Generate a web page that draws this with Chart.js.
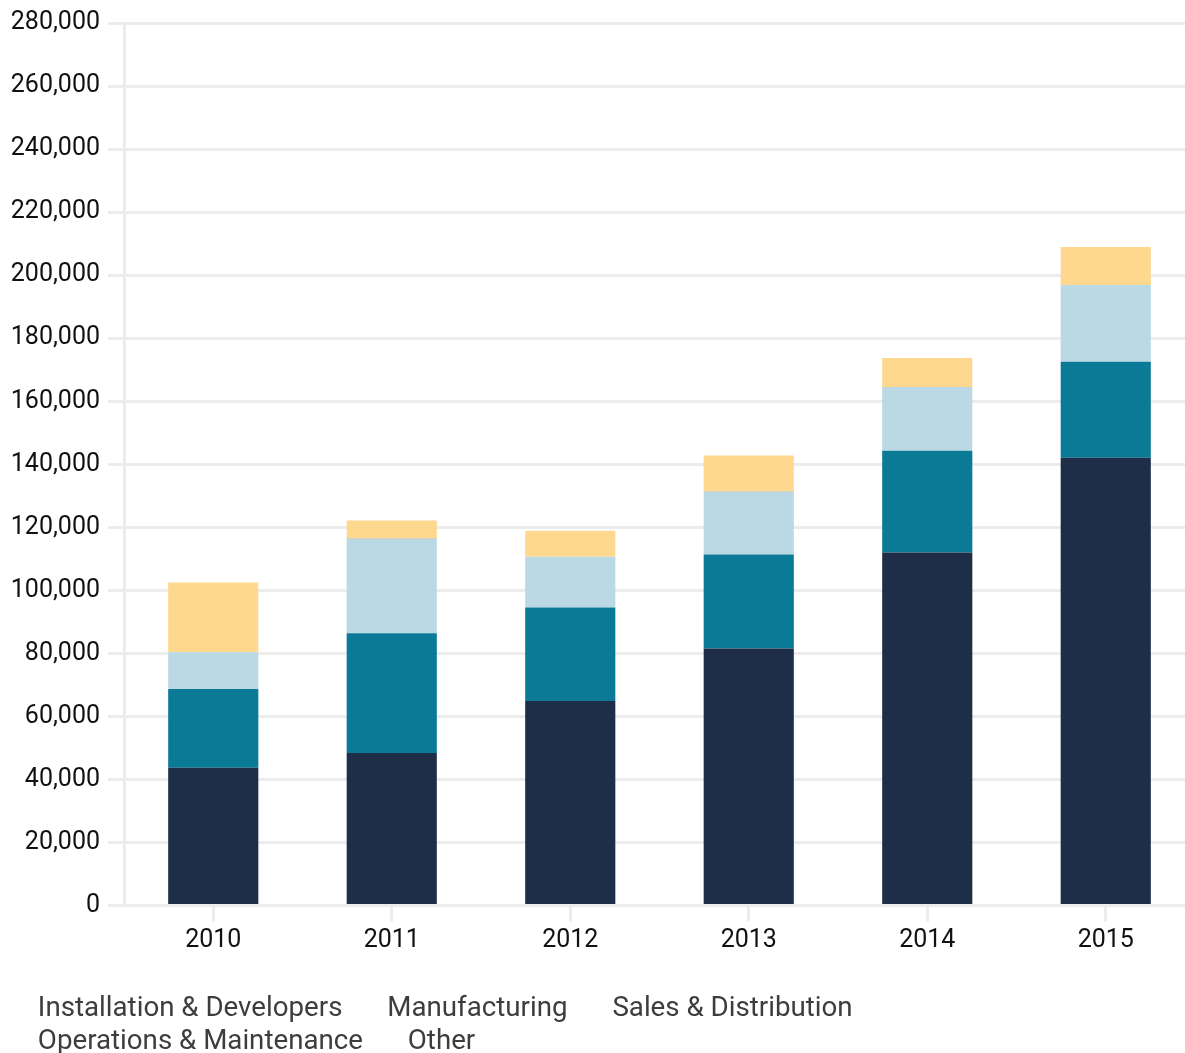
<!DOCTYPE html>
<html>
<head>
<meta charset="utf-8">
<script src="https://cdn.jsdelivr.net/npm/chart.js@4/dist/chart.umd.min.js"></script>
<style>
  html, body { margin: 0; padding: 0; background: #ffffff; overflow: hidden; }
  #wrap { position: absolute; left: -7px; top: 0; width: 1202px; height: 1066px; }
</style>
</head>
<body>
<div id="wrap"><canvas id="chart"></canvas></div>
<script>
// Jobs by segment, 2010–2015
const years = ['2010', '2011', '2012', '2013', '2014', '2015'];
const installationDevelopers = [43700, 48400, 64900, 81600, 112000, 142100];
const manufacturing = [25000, 38000, 29700, 29800, 32300, 30400];
const salesDistribution = [11700, 29700, 16100, 19600, 20200, 24400];
const operationsMaintenance = [0, 400, 0, 400, 0, 0];
const other = [22100, 5700, 8200, 11400, 9200, 12000];
const yTickValues = [0, 20000, 40000, 60000, 80000, 100000, 120000, 140000,
  160000, 180000, 200000, 220000, 240000, 260000, 280000];

const gridColor = '#ececec';

new Chart(document.getElementById('chart'), {
  type: 'bar',
  data: {
    labels: years,
    datasets: [
      { label: 'Installation & Developers', data: installationDevelopers, backgroundColor: '#1f2e48' },
      { label: 'Manufacturing', data: manufacturing, backgroundColor: '#0b7a96' },
      { label: 'Sales & Distribution', data: salesDistribution, backgroundColor: '#bad9e4' },
      { label: 'Operations & Maintenance', data: operationsMaintenance, backgroundColor: '#a9c2c6' },
      { label: 'Other', data: other, backgroundColor: '#fed88f' }
    ]
  },
  options: {
    responsive: true,
    maintainAspectRatio: false,
    animation: false,
    layout: { padding: { top: 20, right: 0, bottom: 0, left: 0 } },
    datasets: { bar: { categoryPercentage: 1, barPercentage: 0.505, borderWidth: 0 } },
    scales: {
      x: {
        stacked: true,
        afterFit: (scale) => { scale.height = 85; },
        grid: {
          offset: false,
          drawOnChartArea: false,
          drawTicks: true,
          tickLength: 16,
          color: gridColor,
          lineWidth: 3
        },
        border: { display: true, color: gridColor, width: 3 },
        ticks: {
          padding: 4,
          color: '#111111',
          font: { family: 'Roboto', size: 25 }
        }
      },
      y: {
        stacked: true,
        min: 0,
        max: 280000,
        afterFit: (scale) => { scale.width = 131; },
        afterBuildTicks: (scale) => { scale.ticks = yTickValues.map(v => ({ value: v })); },
        grid: {
          drawTicks: true,
          tickLength: 16,
          color: gridColor,
          lineWidth: 3
        },
        border: { display: true, color: gridColor, width: 3 },
        ticks: {
          padding: 8,
          color: '#111111',
          font: { family: 'Roboto', size: 25 },
          callback: (v) => Number(v).toLocaleString('en-US')
        }
      }
    },
    plugins: {
      tooltip: { enabled: false },
      legend: {
        display: true,
        position: 'bottom',
        align: 'start',
        labels: {
          boxWidth: 26,
          boxHeight: 1,
          padding: 5,
          color: '#3d3d3d',
          font: { family: 'Roboto', size: 27.7 },
          generateLabels: (chart) => {
            const items = Chart.defaults.plugins.legend.labels.generateLabels(chart);
            items.forEach(it => {
              it.fillStyle = 'rgba(0,0,0,0)';
              it.strokeStyle = 'rgba(0,0,0,0)';
              it.lineWidth = 0;
            });
            return items;
          }
        }
      }
    }
  }
});
</script>
</body>
</html>
